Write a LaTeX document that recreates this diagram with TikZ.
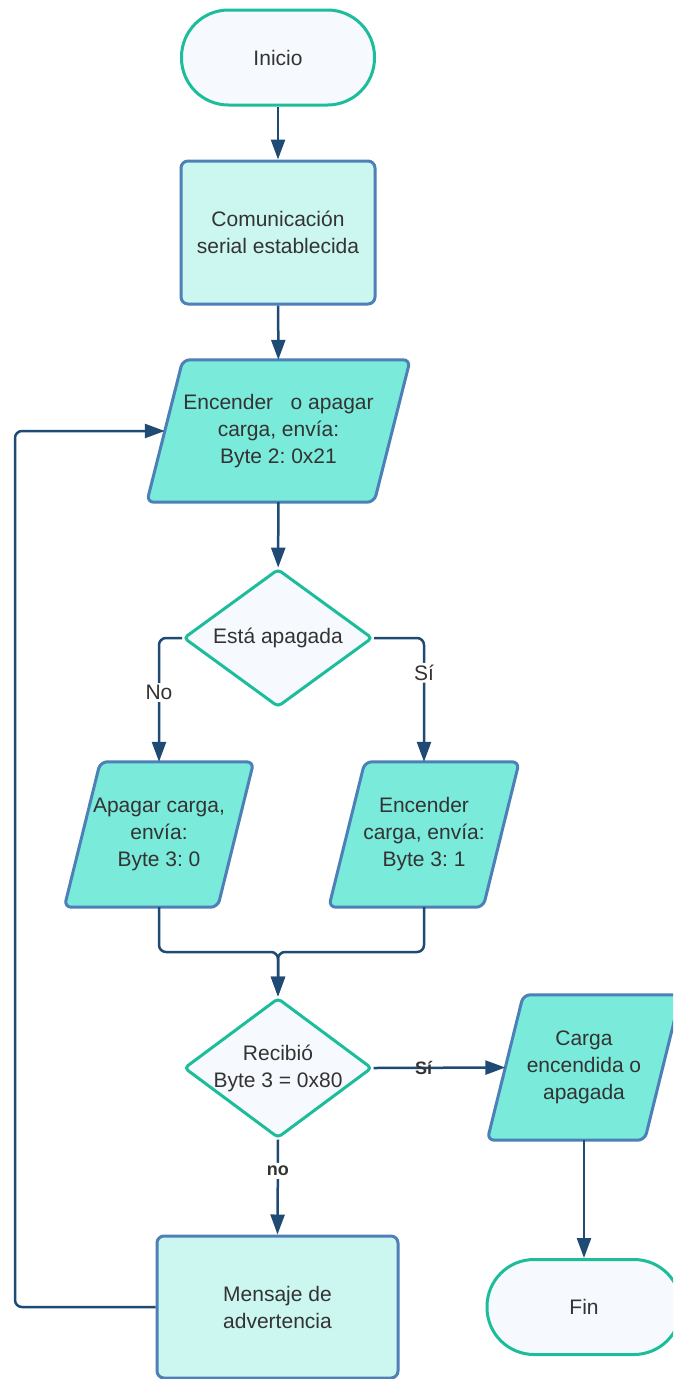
\documentclass[tikz,border=0pt]{standalone}
\usepackage{fontspec}
\setmainfont{Liberation Sans}
\usetikzlibrary{arrows.meta,backgrounds,shapes.geometric}
\definecolor{teal1}{RGB}{29,189,156}
\definecolor{bord}{RGB}{78,128,184}
\definecolor{conn}{RGB}{31,74,116}
\definecolor{aqua}{RGB}{122,234,219}
\definecolor{lightaqua}{RGB}{204,246,240}
\definecolor{pale}{RGB}{246,249,253}
\definecolor{txt}{RGB}{51,51,51}
\frenchspacing
\tikzset{
  every node/.style={font=\fontsize{21}{27}\selectfont, text=txt, align=center},
  term/.style={draw=teal1, line width=3pt, fill=pale, rounded corners=47pt, minimum width=193pt, minimum height=95pt, inner sep=0pt},
  procbox/.style={draw=bord, line width=3pt, fill=lightaqua, rounded corners=7pt, inner sep=0pt},
  decis/.style={draw=teal1, line width=3pt, fill=pale, diamond, rounded corners=4pt, inner sep=0pt},
  iobox/.style={inner sep=0pt},
  ioshape/.style={draw=bord, line width=3pt, fill=aqua, rounded corners=7pt},
  conn/.style={draw=conn, line width=2.5pt, -{Triangle[length=20pt,width=14pt]}, rounded corners=7pt},
  lbl/.style={fill=white, inner sep=2pt},
  blbl/.style={font=\fontsize{18}{22}\selectfont\bfseries, inner sep=1pt}
}
\begin{document}
\begin{tikzpicture}[x=1pt,y=-1pt]
\useasboundingbox (0,0) rectangle (673,1379);
\clip (0,0) rectangle (673,1379);
% nodes
\node[term] (ini) at (278,57.5) {Inicio};
\node[procbox, minimum width=194pt, minimum height=143pt] (com) at (278,232.5) {Comunicación\\serial establecida};
\node[iobox, minimum width=227pt, minimum height=142pt] (p1) at (278.5,431) {Encender\ \ \ o apagar\\carga, envía:\\Byte 2: 0x21};
\node[decis, minimum width=189pt, minimum height=138pt, label={[font=\fontsize{21}{27}\selectfont]center:Está apagada}] (d1) at (278,638) {};
\node[iobox, minimum width=153pt, minimum height=145pt] (p2) at (159,834.5) {Apagar carga,\\envía:\\Byte 3: 0};
\node[iobox, minimum width=154pt, minimum height=145pt] (p3) at (424,834.5) {Encender\\carga, envía:\\Byte 3: 1};
\node[decis, minimum width=188pt, minimum height=140pt, label={[font=\fontsize{21}{27}\selectfont, align=center]center:Recibió\\Byte 3 = 0x80}] (d2) at (278,1068) {};
\node[iobox, minimum width=157pt, minimum height=145pt] (p4) at (584,1067.5) {Carga\\encendida o\\apagada};
\node[procbox, minimum width=241pt, minimum height=142pt] (msg) at (277.5,1307) {Mensaje de\\advertencia};
\node[term, minimum width=194pt] (fin) at (584,1307) {Fin};
% parallelogram outlines
\begin{pgfonlayer}{background}
\clip (0,0) rectangle (673,1379);
\fill[white] (0,0) rectangle (673,1379);
\foreach \n in {p1,p2,p3,p4}{
  \draw[ioshape] ([xshift=-18pt]\n.south west) -- ([xshift=18pt]\n.north west) -- ([xshift=18pt]\n.north east) -- ([xshift=-18pt]\n.south east) -- cycle;
}
\end{pgfonlayer}
% connectors
\coordinate (jn) at (278,952);
\coordinate (lp) at (15,1307);
\draw[conn] (ini) -- (com);
\draw[conn] (com) -- (p1);
\draw[conn] (p1) -- (d1);
\draw[conn] (d1.west) -| node[lbl, pos=0.72] {No} (p2.north);
\draw[conn] (d1.east) -| node[lbl, pos=0.64] {Sí} (p3.north);
\draw[conn] (p2.south) |- (jn) -- (d2.north);
\draw[conn] (p3.south) |- (jn) -- (d2.north);
\draw[conn] (d2.east) -- node[blbl, pos=0.38] {Sí} (p4.west);
\draw[conn] (d2.south) -- node[blbl, fill=white, pos=0.33, inner sep=3pt] {no} (msg.north);
\draw[conn] (p4.south) -- (fin.north);
\draw[conn] (msg.west) -- (lp) |- (p1.west);
\end{tikzpicture}
\end{document}
